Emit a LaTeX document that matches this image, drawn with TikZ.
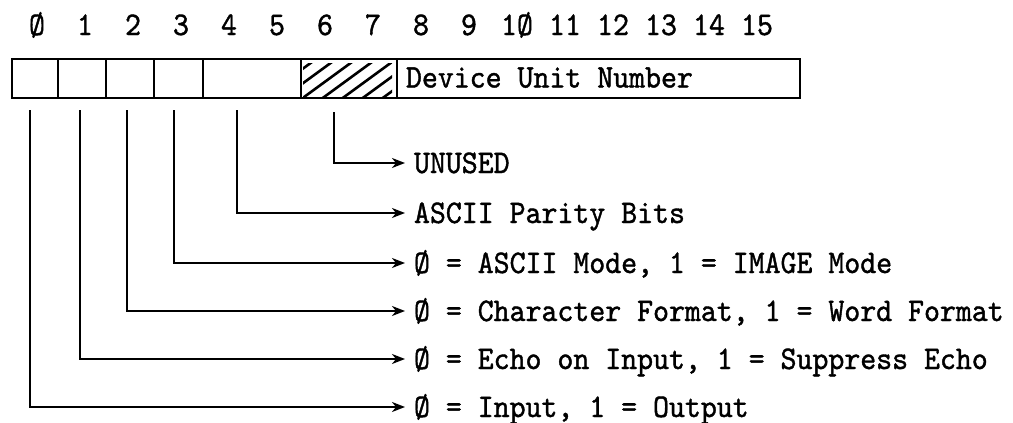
\documentclass[tikz,border=0pt]{standalone}
\usepackage{fontspec}
\newfontfamily\tw[Extension=.otf, FakeStretch=0.92, FakeBold=1.2]{lmmono10-regular}
\usetikzlibrary{arrows.meta}
\begin{document}
\begin{tikzpicture}[x=1pt,y=-1pt,
  line width=2pt,
  cell/.style={draw, minimum height=39pt, inner sep=0pt, anchor=north west},
  txt/.style={font=\tw\fontsize{33}{36}\selectfont, inner sep=0pt, text height=20pt, text depth=0pt},
  lab/.style={txt, anchor=west, inner xsep=8pt},
  arr/.style={-{Stealth[length=13pt,width=10pt,inset=4pt]}},
  hatch/.style={line width=2.6pt}]
\useasboundingbox (0,0) rectangle (1013,423);
% bit numbers
\foreach \d [count=\i from 0] in {Ø,1,2,3,4,5,6,7,8,9,1Ø,11,12,13,14,15}
  \node[txt] (b\i) at ({37+48*\i},25) {\d};
% register cells
\node[cell, minimum width=46pt] (c0) at (11,58) {};
\node[cell, minimum width=48pt] (c1) at (57,58) {};
\node[cell, minimum width=48pt] (c2) at (105,58) {};
\node[cell, minimum width=49pt] (c3) at (153,58) {};
\node[cell, minimum width=98pt] (c4) at (202,58) {};
\node[cell, minimum width=96pt] (c5) at (300,58) {};
\node[cell, minimum width=403pt] (c6) at (396,58) {};
\node[txt, anchor=west] (dun) at (405,77.5) {Device Unit Number};
% hatching of unused field
\begin{scope}
  \clip (303,63) rectangle (392,98);
  \foreach \k in {-40,-20,...,100}
    \draw[hatch] ({300+\k},100) -- ({352+\k},62);
\end{scope}
% labels
\node[lab] (l6) at (405,163) {UNUSED};
\node[lab] (l4) at (405,213) {ASCII Parity Bits};
\node[lab] (l3) at (405,263) {Ø = ASCII Mode, 1 = IMAGE Mode};
\node[lab] (l2) at (405,311) {Ø = Character Format, 1 = Word Format};
\node[lab] (l1) at (405,359) {Ø = Echo on Input, 1 = Suppress Echo};
\node[lab] (l0) at (405,407) {Ø = Input, 1 = Output};
% start points under the cells
\coordinate (s6) at (334,112);
\coordinate (s4) at (237,110);
\coordinate (s3) at (174,110);
\coordinate (s2) at (127,110);
\coordinate (s1) at (80,110);
\coordinate (s0) at (30,110);
% connectors
\draw[arr] (s6) |- (l6.west);
\draw[arr] (s4) |- (l4.west);
\draw[arr] (s3) |- (l3.west);
\draw[arr] (s2) |- (l2.west);
\draw[arr] (s1) |- (l1.west);
\draw[arr] (s0) |- (l0.west);
\end{tikzpicture}
\end{document}
